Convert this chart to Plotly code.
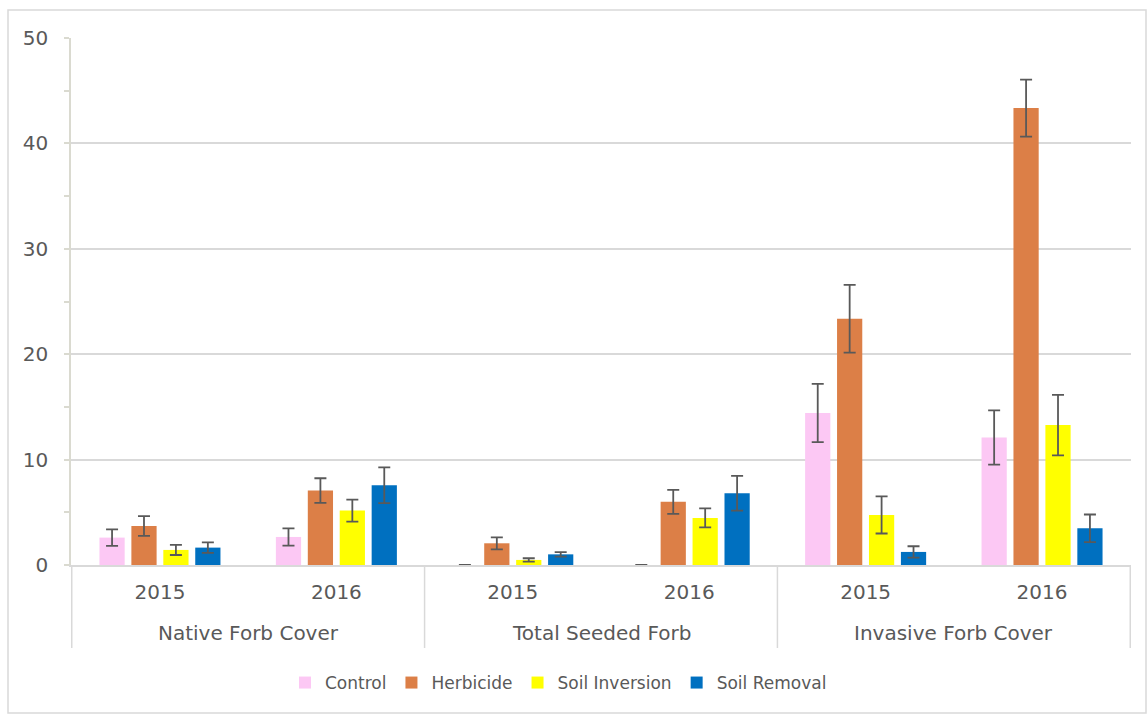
import plotly.graph_objects as go

# Category structure: (measure, year)
measures = ["Native Forb Cover", "Native Forb Cover",
            "Total Seeded Forb", "Total Seeded Forb",
            "Invasive Forb Cover", "Invasive Forb Cover"]
years = ["2015", "2016", "2015", "2016", "2015", "2016"]

# Mean cover (%) and standard error per treatment
control = [2.60, 2.66, 0.0, 0.0, 14.42, 12.10]
control_err = [0.78, 0.82, 0.0, 0.0, 2.77, 2.57]

herbicide = [3.70, 7.06, 2.06, 5.99, 23.36, 43.35]
herbicide_err = [0.93, 1.17, 0.57, 1.13, 3.22, 2.71]

soil_inversion = [1.43, 5.16, 0.48, 4.47, 4.75, 13.28]
soil_inversion_err = [0.48, 1.05, 0.16, 0.90, 1.76, 2.87]

soil_removal = [1.65, 7.57, 1.01, 6.81, 1.24, 3.48]
soil_removal_err = [0.50, 1.70, 0.22, 1.65, 0.54, 1.31]

y_ticks = [0, 10, 20, 30, 40, 50]

series = [
    ("Control", control, control_err, "#FCC8F4"),
    ("Herbicide", herbicide, herbicide_err, "#DC7F47"),
    ("Soil Inversion", soil_inversion, soil_inversion_err, "#FFFF00"),
    ("Soil Removal", soil_removal, soil_removal_err, "#0070C0"),
]

FONT = "DejaVu Sans"
TEXT = "#595959"
GRID = "#D9D9D9"
AXIS = "#DADAD0"

# one unique category key per (measure, year) slot
x_keys = [f"{m} | {y}" for m, y in zip(measures, years)]

fig = go.Figure()
for name, vals, errs, color in series:
    fig.add_trace(go.Bar(
        name=name,
        x=x_keys,
        y=vals,
        marker=dict(color=color, line=dict(width=0)),
        error_y=dict(type="data", array=errs, visible=True,
                     color="#595959", thickness=1.8, width=6),
    ))

W, H = 1147, 715
L, R, T, B = 71, 16, 38, 150
pw, ph = W - L - R, H - T - B
base = H - B  # pixel row of the category axis


def py(pixel_row):
    """pixel row -> paper y"""
    return (base - pixel_row) / ph


# group labels and divider lines derived from the measure list
groups = []
for i, m in enumerate(measures):
    if not groups or groups[-1][0] != m:
        groups.append([m, i, i])
    else:
        groups[-1][2] = i

annotations = []
shapes = []
for m, i0, i1 in groups:
    annotations.append(dict(
        text=m, x=(i0 + i1) / 2, xref="x", y=py(633), yref="paper",
        xanchor="center", yanchor="middle", showarrow=False,
        font=dict(family=FONT, size=20, color=TEXT)))
    shapes.append(dict(type="line", xref="x", yref="paper",
                       x0=i0 - 0.5, x1=i0 - 0.5, y0=0, y1=py(648),
                       line=dict(color=GRID, width=1.5)))
shapes.append(dict(type="line", xref="x", yref="paper",
                   x0=len(measures) - 0.5, x1=len(measures) - 0.5,
                   y0=0, y1=py(648), line=dict(color=GRID, width=1.5)))

# chart border
shapes.append(dict(type="rect", xref="paper", yref="paper",
                   x0=(8 - L) / pw, x1=(1146 - L) / pw,
                   y0=py(713), y1=py(10),
                   line=dict(color=GRID, width=1.5),
                   fillcolor="rgba(0,0,0,0)", layer="below"))

fig.update_layout(
    width=W, height=H,
    margin=dict(l=L, r=R, t=T, b=B),
    paper_bgcolor="white",
    plot_bgcolor="white",
    barmode="group",
    bargap=0.276,
    bargroupgap=0.21,
    font=dict(family=FONT, size=20, color=TEXT),
    showlegend=True,
    legend=dict(orientation="h", x=(285 - L) / pw, xanchor="left",
                y=py(683), yanchor="middle",
                font=dict(size=17, color=TEXT),
                traceorder="normal"),
    annotations=annotations,
    shapes=shapes,
)

fig.update_yaxes(
    range=[0, 50],
    tickvals=y_ticks,
    showgrid=True, gridcolor=GRID, gridwidth=1.5,
    showline=True, linecolor=AXIS, linewidth=1.5,
    ticks="outside", ticklen=5, tickcolor=AXIS, tickwidth=1.5,
    minor=dict(dtick=5, ticks="outside", ticklen=5,
               tickcolor=AXIS, tickwidth=1.5, showgrid=False),
    ticklabelstandoff=12,
    tickfont=dict(size=20, color=TEXT),
    zeroline=False,
)

fig.update_xaxes(
    type="category",
    tickvals=x_keys, ticktext=years,
    showline=True, linecolor=GRID, linewidth=2,
    ticks="", tickfont=dict(size=20, color=TEXT),
    ticklabelstandoff=8,
    showgrid=False,
)

fig.write_html("out.html")
